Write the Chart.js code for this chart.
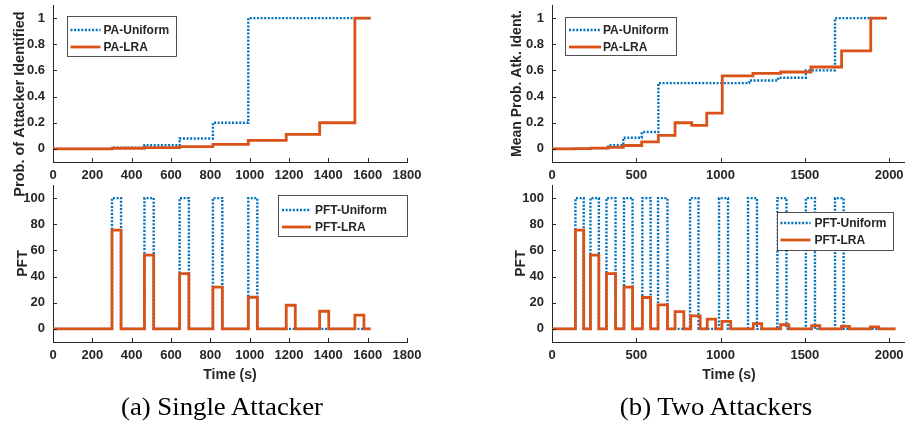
<!DOCTYPE html>
<html>
<head>
<meta charset="utf-8">
<script src="https://cdn.jsdelivr.net/npm/chart.js@4.4.1/dist/chart.umd.min.js"></script>
<style>
  body { margin: 0; background: #fff; }
  #page { position: relative; width: 905px; height: 425px; overflow: hidden; background: #fff; }
  canvas { position: absolute; }
  .caption { position: absolute; font-family: "Liberation Serif", "DejaVu Serif", serif; font-size: 25px; color: #000; transform: translateX(-50%) scaleX(1.07); white-space: nowrap; }
</style>
</head>
<body>
<div id="page">
  <canvas id="singlePA" width="440" height="205" style="left:0;top:0"></canvas>
  <canvas id="singlePFT" width="440" height="210" style="left:0;top:180px"></canvas>
  <canvas id="twoPA" width="456" height="185" style="left:450px;top:0"></canvas>
  <canvas id="twoPFT" width="456" height="210" style="left:450px;top:180px"></canvas>
  <div class="caption" style="left:222px;top:393px">(a) Single Attacker</div>
  <div class="caption" style="left:716px;top:393px">(b) Two Attackers</div>
</div>
<script>
// single attacker: test windows (s) and values per window
const singleStart = [300, 465, 644, 813, 993, 1186, 1356, 1535];
const singleEnd = [346, 512, 691, 861, 1039, 1232, 1402, 1581];
const singleStop = 1615;
const singlePAUniform = [0.01, 0.028, 0.08, 0.2, 1, 1, 1, 1];
const singlePALRA = [0.005, 0.01, 0.018, 0.034, 0.065, 0.111, 0.2, 1];
const singlePFTUniform = [100, 100, 100, 100, 100, 0, 0, 0];
const singlePFTLRA = [75.5, 56.4, 42.3, 31.9, 24.2, 18.1, 13.5, 10.5];
const singleXTicks = [0, 200, 400, 600, 800, 1000, 1200, 1400, 1600, 1800];

// two attackers
const twoPAUniformTimes = [139, 228, 333, 423, 532, 631, 1169, 1341, 1506, 1679];
const twoPAUniform = [0.002, 0.006, 0.028, 0.085, 0.129, 0.503, 0.523, 0.544, 0.6, 1];
const twoPALRATimes = [139, 228, 333, 423, 532, 631, 730, 829, 918, 1010, 1192, 1357, 1536, 1718, 1891];
const twoPALRA = [0.002, 0.006, 0.012, 0.026, 0.054, 0.103, 0.2, 0.18, 0.273, 0.559, 0.577, 0.588, 0.626, 0.75, 1];
const twoPAStop = 1986;
const twoLRAStart = [139, 228, 323, 427, 536, 629, 730, 823, 921, 1008, 1194, 1356, 1540, 1717, 1889];
const twoLRAEnd = [188, 278, 377, 478, 585, 685, 782, 879, 971, 1060, 1244, 1405, 1589, 1765, 1938];
const twoPFTLRA = [75.5, 56.4, 42.3, 32, 24, 18.4, 13.2, 10, 7.5, 5.8, 4.1, 3.2, 2.5, 2, 1.6];
const twoUniStart = [139, 228, 323, 427, 536, 629, 819, 991, 1163, 1337, 1506, 1679];
const twoUniEnd = [188, 278, 377, 478, 585, 685, 869, 1044, 1216, 1391, 1560, 1730];
const twoPFTUniform = [100, 100, 100, 100, 100, 100, 100, 100, 100, 100, 100, 100];
const twoPFTStop = 2038;
const twoXTicks = [0, 500, 1000, 1500, 2000];

const paTicks = [0, 0.2, 0.4, 0.6, 0.8, 1];
const pftTicks = [0, 20, 40, 60, 80, 100];

const BLUE = '#0072BD';
const ORANGE = '#D95319';
const AXIS = '#262626';
const FONT = 'Liberation Sans, Arial, Helvetica, sans-serif';

// value changes at each time and holds until the next one
function steps(times, values, stop) {
    const pts = [{ x: 0, y: 0 }];
    times.forEach((t, i) => pts.push({ x: t, y: values[i] }));
    pts.push({ x: stop, y: values[values.length - 1] });
    return pts;
}

// rectangular pulses, back to zero at each end time
function pulses(starts, ends, heights, stop) {
    const pts = [{ x: 0, y: 0 }];
    starts.forEach((t, i) => {
        pts.push({ x: t, y: heights[i] });
        pts.push({ x: ends[i], y: 0 });
    });
    pts.push({ x: stop, y: 0 });
    return pts;
}

// matlab style ticks pointing into the axes
const inwardTicks = {
    id: 'inwardTicks',
    afterDatasetsDraw(chart) {
        const { ctx, chartArea: a, scales: { x, y } } = chart;
        ctx.save();
        ctx.strokeStyle = AXIS;
        ctx.lineWidth = 1;
        ctx.beginPath();
        x.ticks.forEach(t => {
            const px = Math.round(x.getPixelForValue(t.value)) + 0.5;
            ctx.moveTo(px, a.bottom);
            ctx.lineTo(px, a.bottom - 4);
        });
        y.ticks.forEach(t => {
            const py = Math.round(y.getPixelForValue(t.value)) + 0.5;
            ctx.moveTo(a.left, py);
            ctx.lineTo(a.left + 4, py);
        });
        ctx.stroke();
        ctx.restore();
    }
};

// legend box drawn inside the axes
const boxLegend = {
    id: 'boxLegend',
    afterDraw(chart, args, o) {
        const { ctx, chartArea: a } = chart;
        const left = a.left + o.left, top = a.top + o.top;
        ctx.save();
        ctx.fillStyle = '#fff';
        ctx.fillRect(left, top, o.width, o.height);
        ctx.strokeStyle = AXIS;
        ctx.lineWidth = 0.8;
        ctx.strokeRect(Math.round(left) + 0.5, Math.round(top) + 0.5, o.width, o.height);
        chart.data.datasets.forEach((ds, i) => {
            const ry = top + o.rows[i];
            ctx.strokeStyle = ds.borderColor;
            ctx.lineWidth = ds.borderWidth;
            ctx.setLineDash(ds.borderDash || []);
            ctx.beginPath();
            ctx.moveTo(left + o.sample[0], ry);
            ctx.lineTo(left + o.sample[1], ry);
            ctx.stroke();
            ctx.setLineDash([]);
            ctx.fillStyle = AXIS;
            ctx.font = 'bold 12px ' + FONT;
            ctx.textBaseline = 'middle';
            ctx.fillText(ds.label, left + o.text, ry + 0.5);
        });
        ctx.restore();
    }
};

// y label that sits off the axes centre (single attacker top panel)
const freeTitle = {
    id: 'freeTitle',
    afterDraw(chart, args, o) {
        if (!o.text) return;
        const { ctx } = chart;
        ctx.save();
        ctx.translate(o.x, o.y);
        ctx.rotate(-Math.PI / 2);
        ctx.fillStyle = AXIS;
        ctx.font = 'bold ' + o.size + 'px ' + FONT;
        ctx.textAlign = 'center';
        ctx.textBaseline = 'middle';
        ctx.fillText(o.text, 0, 0);
        ctx.restore();
    }
};

function makeChart(id, o) {
    const tickFont = { family: FONT, size: 13, weight: 'bold' };
    const titleFont = { family: FONT, size: 14, weight: 'bold' };
    return new Chart(document.getElementById(id), {
        type: 'line',
        data: {
            datasets: [
                { label: o.labels[0], data: o.uniform, borderColor: BLUE, borderWidth: 2.4, borderDash: [2, 1.6],
                  stepped: true, pointRadius: 0, fill: false, order: 1 },
                { label: o.labels[1], data: o.lra, borderColor: ORANGE, borderWidth: 2.8,
                  stepped: true, pointRadius: 0, fill: false, order: 0 }
            ]
        },
        options: {
            responsive: false,
            animation: false,
            events: [],
            layout: { padding: { left: 0, top: 5, right: o.padRight, bottom: 0 } },
            plugins: {
                legend: { display: false },
                tooltip: { enabled: false },
                boxLegend: o.legend,
                freeTitle: o.freeTitle || {}
            },
            scales: {
                x: {
                    type: 'linear', min: 0, max: o.xMax,
                    afterBuildTicks: s => { s.ticks = o.xTicks.map(v => ({ value: v })); },
                    afterFit: s => { s.height = o.xHeight; s.paddingLeft = 0; s.paddingRight = 0; },
                    grid: { display: false, drawTicks: false },
                    border: { display: true, color: AXIS, width: 1 },
                    ticks: { font: tickFont, color: AXIS, padding: 6, maxRotation: 0, autoSkip: false,
                             callback: v => String(v) },
                    title: { display: !!o.xTitle, text: o.xTitle, font: titleFont, color: AXIS, padding: { top: 0, bottom: 6.6 } }
                },
                y: {
                    type: 'linear', min: o.yMin, max: o.yMax,
                    afterBuildTicks: s => { s.ticks = o.yTicks.map(v => ({ value: v })); },
                    afterFit: s => { s.width = o.yWidth; s.paddingTop = 0; s.paddingBottom = 0; },
                    grid: { display: false, drawTicks: false },
                    border: { display: true, color: AXIS, width: 1 },
                    ticks: { font: tickFont, color: AXIS, padding: 8, autoSkip: false,
                             callback: v => String(v) },
                    title: { display: !!o.yTitle, text: o.yTitle, font: titleFont, color: AXIS, padding: { top: o.yTitlePad, bottom: 0 } }
                }
            }
        },
        plugins: [inwardTicks, boxLegend, freeTitle]
    });
}

makeChart('singlePA', {
    labels: ['PA-Uniform', 'PA-LRA'],
    uniform: steps(singleStart, singlePAUniform, singleStop),
    lra: steps(singleStart, singlePALRA, singleStop),
    xMax: 1800, xTicks: singleXTicks, xHeight: 43, padRight: 33,
    yMin: -0.1, yMax: 1.1, yTicks: paTicks, yWidth: 53,
    freeTitle: { text: 'Prob. of Attacker Identified', x: 20, y: 104, size: 14.5 },
    legend: { left: 13.5, top: 11, width: 109, height: 40, rows: [14, 31], sample: [4, 34], text: 37 }
});

makeChart('singlePFT', {
    labels: ['PFT-Uniform', 'PFT-LRA'],
    uniform: pulses(singleStart, singleEnd, singlePFTUniform, singleStop),
    lra: pulses(singleStart, singleEnd, singlePFTLRA, singleStop),
    xMax: 1800, xTicks: singleXTicks, xHeight: 48, padRight: 33, xTitle: 'Time (s)',
    yMin: -10, yMax: 110, yTicks: pftTicks, yWidth: 53, yTitlePad: 15,
    yTitle: 'PFT',
    legend: { left: 225, top: 10, width: 129, height: 41, rows: [15, 32], sample: [4, 33], text: 37 }
});

makeChart('twoPA', {
    labels: ['PA-Uniform', 'PA-LRA'],
    uniform: steps(twoPAUniformTimes, twoPAUniform, twoPAStop),
    lra: steps(twoPALRATimes, twoPALRA, twoPAStop),
    xMax: 2100, xTicks: twoXTicks, xHeight: 23, padRight: 0,
    yMin: -0.1, yMax: 1.1, yTicks: paTicks, yWidth: 102, yTitlePad: 58.6,
    yTitle: 'Mean Prob. Atk. Ident.',
    legend: { left: 13, top: 12, width: 111, height: 38, rows: [13, 30], sample: [4, 36], text: 38 }
});

makeChart('twoPFT', {
    labels: ['PFT-Uniform', 'PFT-LRA'],
    uniform: pulses(twoUniStart, twoUniEnd, twoPFTUniform, twoPFTStop),
    lra: pulses(twoLRAStart, twoLRAEnd, twoPFTLRA, twoPFTStop),
    xMax: 2100, xTicks: twoXTicks, xHeight: 48, padRight: 0, xTitle: 'Time (s)',
    yMin: -10, yMax: 110, yTicks: pftTicks, yWidth: 102, yTitlePad: 62.6,
    yTitle: 'PFT',
    legend: { left: 224.5, top: 27, width: 116, height: 38, rows: [11, 28], sample: [4, 34], text: 38 }
});
</script>
</body>
</html>
